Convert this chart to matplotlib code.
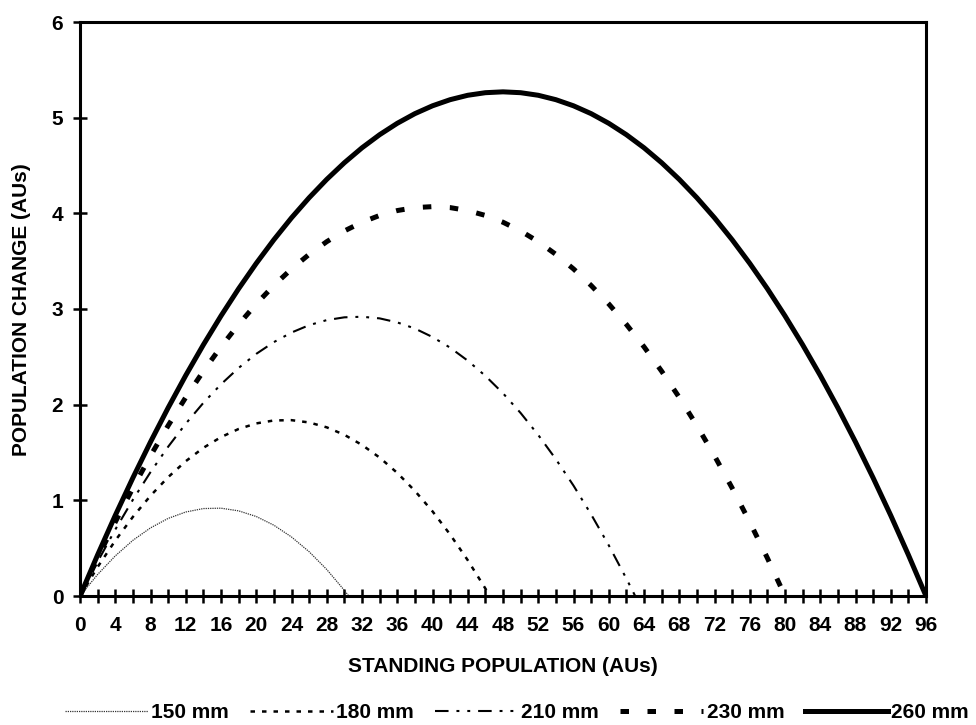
import matplotlib
matplotlib.use("Agg")
import matplotlib.pyplot as plt

plt.rcParams['font.family'] = ['Liberation Sans', 'DejaVu Sans']
plt.rcParams['font.weight'] = 'bold'

# ---- data ----
x150 = [0, 2, 4, 6, 8, 10, 12, 14, 16, 18, 20, 22, 24, 26, 28, 30, 30.5]
y150 = [0, 0.225, 0.419, 0.582, 0.712, 0.811, 0.878, 0.914, 0.918, 0.890,
        0.831, 0.740, 0.617, 0.463, 0.277, 0.059, 0]

x180 = [0, 2, 4, 6, 8, 10, 12, 14, 16, 18, 20, 22, 24, 26, 28, 30, 32, 34,
        36, 38, 40, 42, 44, 46, 46.5]
y180 = [0, 0.303, 0.579, 0.827, 1.048, 1.242, 1.409, 1.549, 1.661, 1.746,
        1.804, 1.835, 1.838, 1.814, 1.763, 1.685, 1.579, 1.447, 1.287, 1.099,
        0.885, 0.643, 0.374, 0.078, 0]

x210 = [0, 2, 4, 6, 8, 10, 12, 14, 16, 18, 20, 22, 24, 26, 28, 30, 32, 34,
        36, 38, 40, 42, 44, 46, 48, 50, 52, 54, 56, 58, 60, 62, 63]
y210 = [0, 0.359, 0.694, 1.006, 1.295, 1.560, 1.801, 2.019, 2.213, 2.384,
        2.531, 2.654, 2.754, 2.831, 2.884, 2.913, 2.919, 2.902, 2.860, 2.796,
        2.707, 2.596, 2.460, 2.301, 2.119, 1.913, 1.683, 1.430, 1.154, 0.853,
        0.530, 0.182, 0]

x230 = [0, 2, 4, 6, 8, 10, 12, 14, 16, 18, 20, 22, 24, 26, 28, 30, 32, 34,
        36, 38, 40, 42, 44, 46, 48, 50, 52, 54, 56, 58, 60, 62, 64, 66, 68,
        70, 72, 74, 76, 78, 80]
y230 = [0, 0.397, 0.773, 1.129, 1.465, 1.781, 2.076, 2.350, 2.605, 2.839,
        3.053, 3.246, 3.419, 3.571, 3.704, 3.816, 3.907, 3.978, 4.029, 4.060,
        4.070, 4.060, 4.029, 3.978, 3.907, 3.816, 3.704, 3.571, 3.419, 3.246,
        3.053, 2.839, 2.605, 2.350, 2.076, 1.781, 1.465, 1.129, 0.773, 0.397, 0]

x260 = [0, 2, 4, 6, 8, 10, 12, 14, 16, 18, 20, 22, 24, 26, 28, 30, 32, 34,
        36, 38, 40, 42, 44, 46, 48, 50, 52, 54, 56, 58, 60, 62, 64, 66, 68,
        70, 72, 74, 76, 78, 80, 82, 84, 86, 88, 90, 92, 94, 96]
y260 = [0, 0.430, 0.842, 1.235, 1.610, 1.967, 2.306, 2.626, 2.928, 3.212,
        3.477, 3.724, 3.953, 4.163, 4.355, 4.529, 4.685, 4.822, 4.941, 5.042,
        5.124, 5.188, 5.234, 5.261, 5.270, 5.261, 5.234, 5.188, 5.124, 5.042,
        4.941, 4.822, 4.685, 4.529, 4.355, 4.163, 3.953, 3.724, 3.477, 3.212,
        2.928, 2.626, 2.306, 1.967, 1.610, 1.235, 0.842, 0.430, 0]

labels = ['150 mm', '180 mm', '210 mm', '230 mm', '260 mm']
x_ticks = list(range(0, 97, 2))
x_ticklabels = [str(v) if v % 4 == 0 else '' for v in x_ticks]
y_ticks = [0, 1, 2, 3, 4, 5, 6]

FS = 15

fig = plt.figure(figsize=(9.76, 7.25), dpi=100)
ax = fig.add_axes([80 / 976, 1 - 596 / 725, 846 / 976, 574 / 725])

ax.plot(x150, y150, color='#333333', lw=0.9, ls=(0, (1, 0.8)), label=labels[0])
ax.plot(x180, y180, color='black', lw=1.8, ls=(0, (1.8, 2.8)), label=labels[1])
ax.plot(x210, y210, color='black', lw=1.5, ls=(0, (6.5, 3.8, 1.4, 3.8, 1.4, 3.8)), label=labels[2])
ax.plot(x230, y230, color='black', lw=3.6, ls=(0, (1.7, 3.7)), label=labels[3])
ax.plot(x260, y260, color='black', lw=3.6, ls='-', label=labels[4])

ax.set_xlim(0, 96)
ax.set_ylim(0, 6)
ax.set_xticks(x_ticks)
ax.set_xticklabels(x_ticklabels)
ax.set_yticks(y_ticks)
ax.tick_params(axis='x', direction='inout', length=9.5, width=1.8, pad=10,
               labelsize=FS)
ax.tick_params(axis='y', direction='inout', length=10, width=1.8, pad=7,
               labelsize=FS)
for lab in ax.get_xticklabels() + ax.get_yticklabels():
    lab.set_fontweight('bold')
for s in ax.spines.values():
    s.set_linewidth(2.2)
    s.set_color('black')

fig.text(503 / 976, 1 - 667 / 725, 'STANDING POPULATION (AUs)', ha='center',
         va='center', fontsize=FS, fontweight='bold')
fig.text(22 / 976, 1 - 310 / 725, 'POPULATION CHANGE (AUs)', ha='center',
         va='center', rotation=90, fontsize=FS, fontweight='bold')

leg = fig.legend(loc='center', bbox_to_anchor=(517 / 976, 1 - 713 / 725),
                 ncol=5, frameon=False, handlelength=4.0,
                 handletextpad=0.15, columnspacing=1.0, borderpad=0,
                 borderaxespad=0,
                 prop={'weight': 'bold', 'size': FS})

fig.savefig('out.png', dpi=100)
